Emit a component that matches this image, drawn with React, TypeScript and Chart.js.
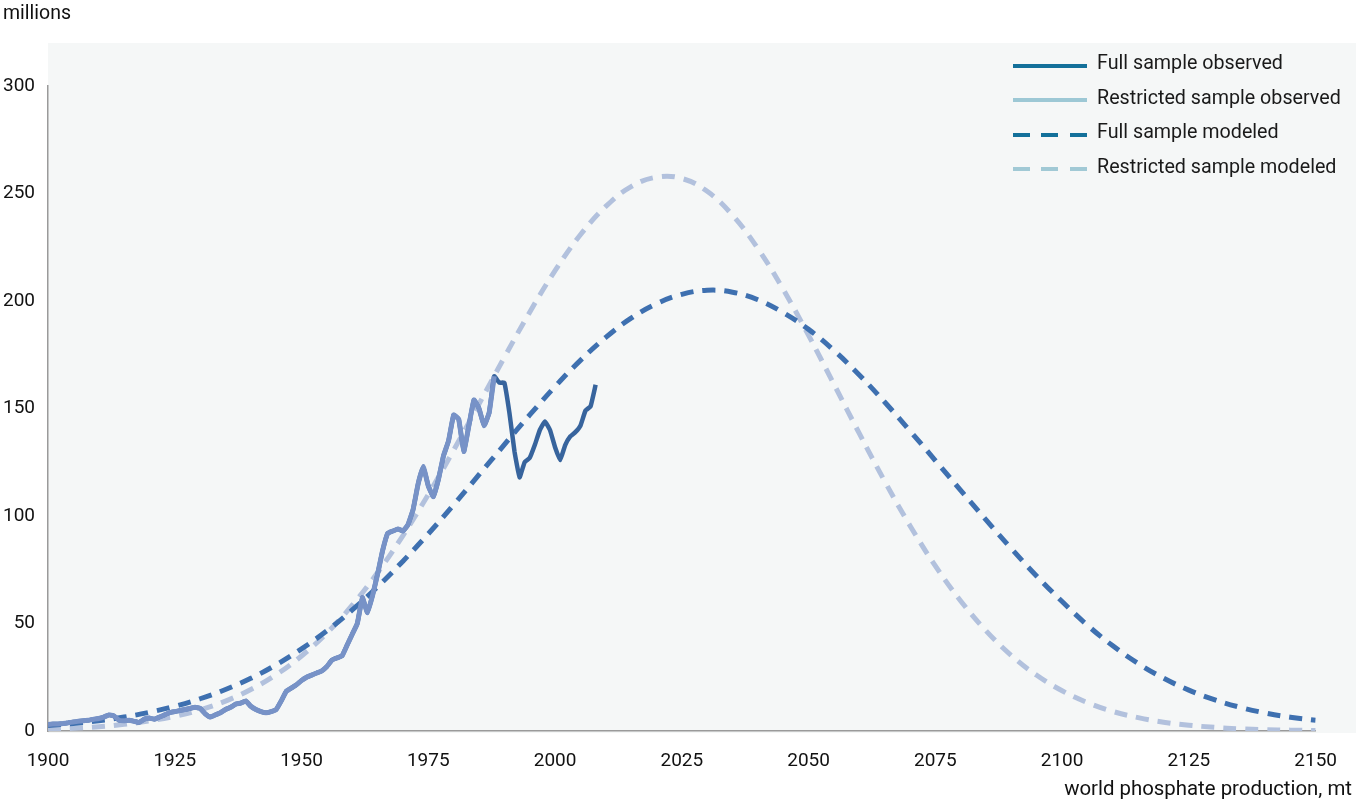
import React, { useEffect, useRef } from "react";
import { Chart, registerables } from "chart.js";

Chart.register(...registerables);

// ---- data ----
const observedYears: number[] = [];
for (let y = 1900; y <= 2008; y++) observedYears.push(y);

const fullObservedValues = [
  3.0, 3.2, 3.3, 3.5, 3.8, 4.2, 4.5, 4.8, 5.0, 5.5,
  5.8, 6.5, 7.5, 7.0, 5.0, 4.8, 5.0, 4.5, 4.0, 5.5,
  6.0, 5.5, 6.5, 7.5, 8.5, 9.0, 9.5, 10.0, 10.5, 11.0,
  10.5, 8.0, 6.5, 7.5, 8.5, 10.0, 11.0, 12.5, 13.0, 14.0,
  11.5, 10.0, 9.0, 8.5, 9.0, 10.0, 14.0, 18.5, 20.0, 21.5,
  23.5, 25.0, 26.0, 27.0, 28.0, 30.0, 33.0, 34.0, 35.0, 40.0,
  45.0, 50.0, 62.0, 55.0, 63.0, 73.0, 84.0, 92.0, 93.0, 94.0,
  93.0, 96.0, 103.0, 115.0, 123.0, 114.0, 109.0, 117.0, 128.0, 135.0,
  147.0, 145.0, 130.0, 142.0, 154.0, 150.0, 142.0, 148.0, 165.0, 162.0,
  162.0, 148.0, 130.0, 118.0, 125.0, 127.0, 133.0, 140.0, 144.0, 140.0,
  132.0, 126.0, 133.0, 137.0, 139.0, 142.0, 149.0, 151.0, 161.0,
];
const restrictedObservedLastYear = 1988;

const modeledYears = [
  1900, 1905, 1910, 1915, 1920, 1925, 1930, 1935, 1940, 1945,
  1950, 1955, 1960, 1965, 1970, 1975, 1980, 1985, 1990, 1995,
  2000, 2005, 2010, 2015, 2020, 2025, 2030, 2035, 2040, 2045,
  2050, 2055, 2060, 2065, 2070, 2075, 2080, 2085, 2090, 2095,
  2100, 2105, 2110, 2115, 2120, 2125, 2130, 2135, 2140, 2145, 2150,
];
const fullModeledValues = [
  2.5, 3.5, 4.8, 6.5, 8.7, 11.5, 15.0, 19.3, 24.5, 30.8,
  38.2, 46.6, 56.3, 67.1, 79.0, 91.7, 105.2, 119.2, 133.2, 147.0,
  160.2, 172.4, 183.1, 192.0, 198.7, 203.1, 205.0, 204.1, 200.6, 194.6,
  186.8, 177.0, 165.6, 153.0, 139.6, 125.8, 111.9, 98.2, 84.8, 72.0,
  60.2, 49.2, 39.6, 31.4, 24.6, 19.0, 14.6, 11.1, 8.4, 6.4, 5.0,
];
const restrictedModeledValues = [
  0.8, 1.3, 2.0, 3.1, 4.7, 6.8, 9.8, 13.9, 19.3, 26.2,
  34.9, 45.6, 58.5, 73.7, 90.9, 110.0, 130.6, 152.1, 173.8, 194.8,
  214.1, 230.8, 244.0, 253.2, 257.6, 257.0, 251.0, 239.9, 224.4, 205.4,
  184.0, 161.3, 138.4, 116.2, 95.5, 76.8, 60.5, 46.6, 35.1, 25.9,
  18.7, 13.2, 9.1, 6.2, 4.1, 2.7, 1.7, 1.0, 0.6, 0.4, 0.2,
];

const xTicksMin = 1900;
const xTicksMax = 2150;
const xStep = 25;
const yMin = 0;
const yMax = 300;
const yStep = 50;

const legendItems = [
  { label: "Full sample observed", color: "#13709a", dashed: false },
  { label: "Restricted sample observed", color: "#9dc8d5", dashed: false },
  { label: "Full sample modeled", color: "#13709a", dashed: true },
  { label: "Restricted sample modeled", color: "#a1c9d5", dashed: true },
];

const FONT = "Roboto, 'Noto Sans', sans-serif";

function pts(xs: number[], ys: number[]) {
  return xs.map((x, i) => ({ x, y: ys[i] }));
}

const bgPlugin = {
  id: "bgRect",
  beforeDraw(chart: any) {
    const { ctx, chartArea, width } = chart;
    ctx.save();
    ctx.fillStyle = "#f5f7f7";
    ctx.fillRect(chartArea.left, chartArea.top - 43, width - chartArea.left, chartArea.bottom - chartArea.top + 45);
    ctx.restore();
  },
};

export default function App() {
  const ref = useRef<HTMLCanvasElement | null>(null);

  useEffect(() => {
    if (!ref.current) return;
    const fullObs = pts(observedYears, fullObservedValues);
    const restrObs = pts(
      observedYears.filter((y) => y <= restrictedObservedLastYear),
      fullObservedValues
    );
    const chart = new Chart(ref.current, {
      type: "line",
      data: {
        datasets: [
          {
            label: "Restricted sample observed",
            data: restrObs,
            borderColor: "#7792c7",
            borderWidth: 5,
            tension: 0.1,
            pointRadius: 0,
            order: 1,
          },
          {
            label: "Full sample observed",
            data: fullObs,
            borderColor: "#37649d",
            borderWidth: 4.5,
            tension: 0.1,
            pointRadius: 0,
            order: 2,
          },
          {
            label: "Full sample modeled",
            data: pts(modeledYears, fullModeledValues),
            borderColor: "#3e70b0",
            borderWidth: 5,
            borderDash: [13, 9],
            tension: 0.4,
            pointRadius: 0,
            order: 3,
          },
          {
            label: "Restricted sample modeled",
            data: pts(modeledYears, restrictedModeledValues),
            borderColor: "#b2c1dd",
            borderWidth: 5,
            borderDash: [13, 9],
            tension: 0.4,
            pointRadius: 0,
            order: 4,
          },
        ],
      },
      options: {
        animation: false,
        responsive: false,
        devicePixelRatio: 1,
        layout: { padding: { left: 0, right: 40, top: 86, bottom: 0 } },
        plugins: { legend: { display: false }, tooltip: { enabled: false } },
        scales: {
          x: {
            type: "linear",
            min: xTicksMin,
            max: xTicksMax,
            afterFit: (s: any) => {
              s.height = 75;
            },
            ticks: {
              stepSize: xStep,
              padding: 19,
              color: "#111",
              font: { family: FONT, size: 19 },
              callback: (v: any) => String(v),
              maxRotation: 0,
            },
            grid: { display: false, drawTicks: false },
            border: { display: true, color: "#9a9a9a", width: 1.5 },
          },
          y: {
            min: yMin,
            max: yMax,
            afterFit: (s: any) => {
              s.width = 48;
            },
            ticks: {
              stepSize: yStep,
              padding: 13,
              color: "#111",
              font: { family: FONT, size: 19 },
            },
            grid: { display: false, drawTicks: false },
            border: { display: true, color: "#9a9a9a", width: 1.5 },
          },
        },
      },
      plugins: [bgPlugin],
    });
    return () => chart.destroy();
  }, []);

  return (
    <div style={{ position: "fixed", left: 0, top: 0, width: 1356, height: 806, background: "#fff", fontFamily: FONT }}>
      <canvas ref={ref} width={1356} height={806} style={{ position: "absolute", left: 0, top: 0 }} />
      <div style={{ position: "absolute", left: 3, top: 1, fontSize: 19.5, color: "#111", lineHeight: "24px" }}>millions</div>
      <div style={{ position: "absolute", right: 4, top: 776, fontSize: 20.4, color: "#111", lineHeight: "24px" }}>
        world phosphate production, mt
      </div>
      {legendItems.map((it, i) => (
        <div key={i} style={{ position: "absolute", left: 1013, top: 50 + i * 34.5, height: 26, display: "flex", alignItems: "center" }}>
          <div
            style={{
              width: 74,
              height: 4,
              marginTop: 5,
              flexShrink: 0,
              background: it.dashed
                ? `repeating-linear-gradient(to right, ${it.color} 0px, ${it.color} 17px, transparent 17px, transparent 28.5px)`
                : it.color,
            }}
          />
          <div style={{ marginLeft: 10, fontSize: 19.7, color: "#1a1a1a", lineHeight: "26px", whiteSpace: "nowrap" }}>{it.label}</div>
        </div>
      ))}
    </div>
  );
}
